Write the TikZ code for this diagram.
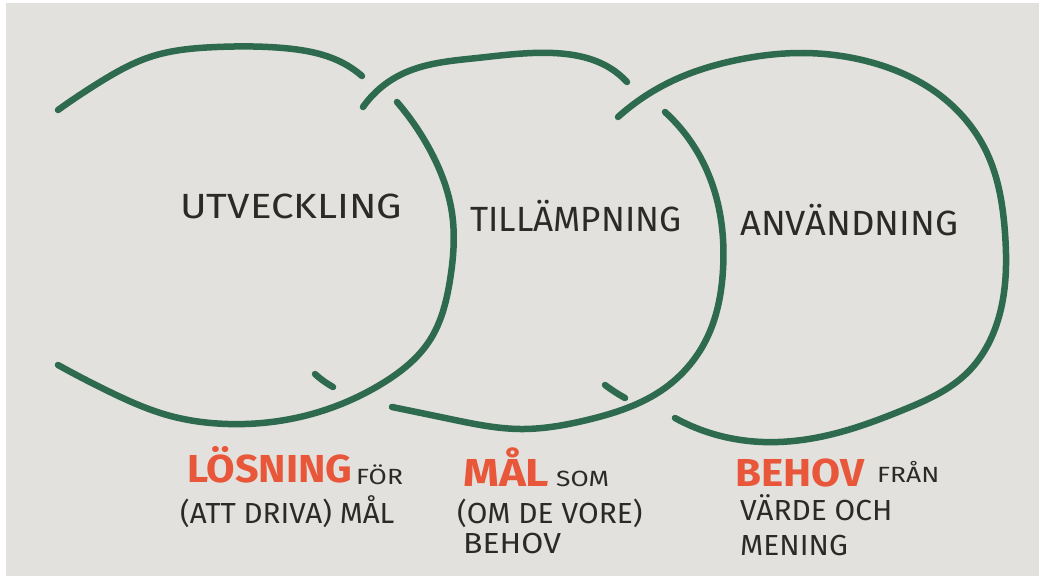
\documentclass[tikz,border=0pt]{standalone}
\usepackage{fontspec}
\usepackage{graphicx}
\usetikzlibrary{hobby}
\setmainfont{Fira Sans}
\definecolor{paper}{HTML}{E3E1DD}
\definecolor{marker}{HTML}{2D6A4E}
\definecolor{redmark}{HTML}{E8573A}
\definecolor{ink}{HTML}{2B2A29}
\newcommand{\sx}[2]{\scalebox{#1}[1]{#2}}
\begin{document}
\begin{tikzpicture}[x=1pt,y=-1pt,
  arcline/.style={draw=marker,line width=6.5pt,line cap=round,line join=round,use Hobby shortcut},
  title/.style={font=\fontsize{35}{35}\selectfont,text=ink,anchor=base west,inner sep=0pt},
  redword/.style={font=\bfseries\fontsize{39}{39}\selectfont,text=redmark,anchor=base west,inner sep=0pt},
  small/.style={font=\fontsize{22}{22}\selectfont,text=ink,anchor=base west,inner sep=0pt},
  caption/.style={font=\fontsize{29}{29}\selectfont,text=ink,anchor=base west,inner sep=0pt}]
\fill[white] (0,0) rectangle (1039,578);
\fill[paper] (6,3) rectangle (1039,576);
\useasboundingbox (0,0) rectangle (1039,578);
% circle 1
\draw[arcline] (58,110) .. (100,82) .. (150,57) .. (217,47) .. (283,48) .. (343,63) .. (362,76);
\draw[arcline] (397,102) .. (430,150) .. (452,213) .. (450,280) .. (430,340) .. (383,383) .. (300,417) .. (228,424) .. (167,415) .. (110,392) .. (58,365);
\draw[arcline] (315,374) .. (325,382) .. (333,387);
% circle 2
\draw[arcline] (363,107) .. (400,75) .. (477,58) .. (553,53) .. (610,68) .. (627,82);
\draw[arcline] (665,112) .. (695,148) .. (717,200) .. (723,270) .. (706,340) .. (665,388) .. (587,420) .. (520,429) .. (450,419) .. (392,407);
\draw[arcline] (605,385) .. (615,392) .. (625,398);
% circle 3
\draw[arcline] (618,117) .. (670,82) .. (737,60) .. (803,53) .. (870,62) .. (937,93) .. (987,153) .. (1005,233) .. (1000,313) .. (967,373) .. (903,410) .. (837,433) .. (763,442) .. (707,432) .. (675,418);
% titles
\node[title] (t1) at (180,218) {\sx{1.15}{UTVECKLING}};
\node[title] (t2) at (470,231) {TILLÄMPNING};
\node[title] (t3) at (740,235) {\sx{1.04}{ANVÄNDNING}};
% captions
\node[redword] (r1) at (187,482) {\sx{1.06}{LÖSNING}};
\node[small] (s1) at (356,484) {\sx{1.2}{FÖR}};
\node[caption] (c1) at (180,523) {\sx{1.02}{(ATT DRIVA) MÅL}};
\node[redword] (r2) at (463,486) {\sx{1.17}{MÅL}};
\node[small] (s2) at (556,486) {\sx{1.2}{SOM}};
\node[caption] (c2) at (457,523) {\sx{1.03}{(OM DE VORE)}};
\node[caption] (c3) at (463,553) {\sx{1.1}{BEHOV}};
\node[redword] (r3) at (735,486) {\sx{1.08}{BEHOV}};
\node[small] (s3) at (877,482) {\sx{1.2}{FRÅN}};
\node[caption] (c4) at (740,520) {\sx{1.03}{VÄRDE OCH}};
\node[caption] (c5) at (740,555) {\sx{1.03}{MENING}};
\end{tikzpicture}
\end{document}
